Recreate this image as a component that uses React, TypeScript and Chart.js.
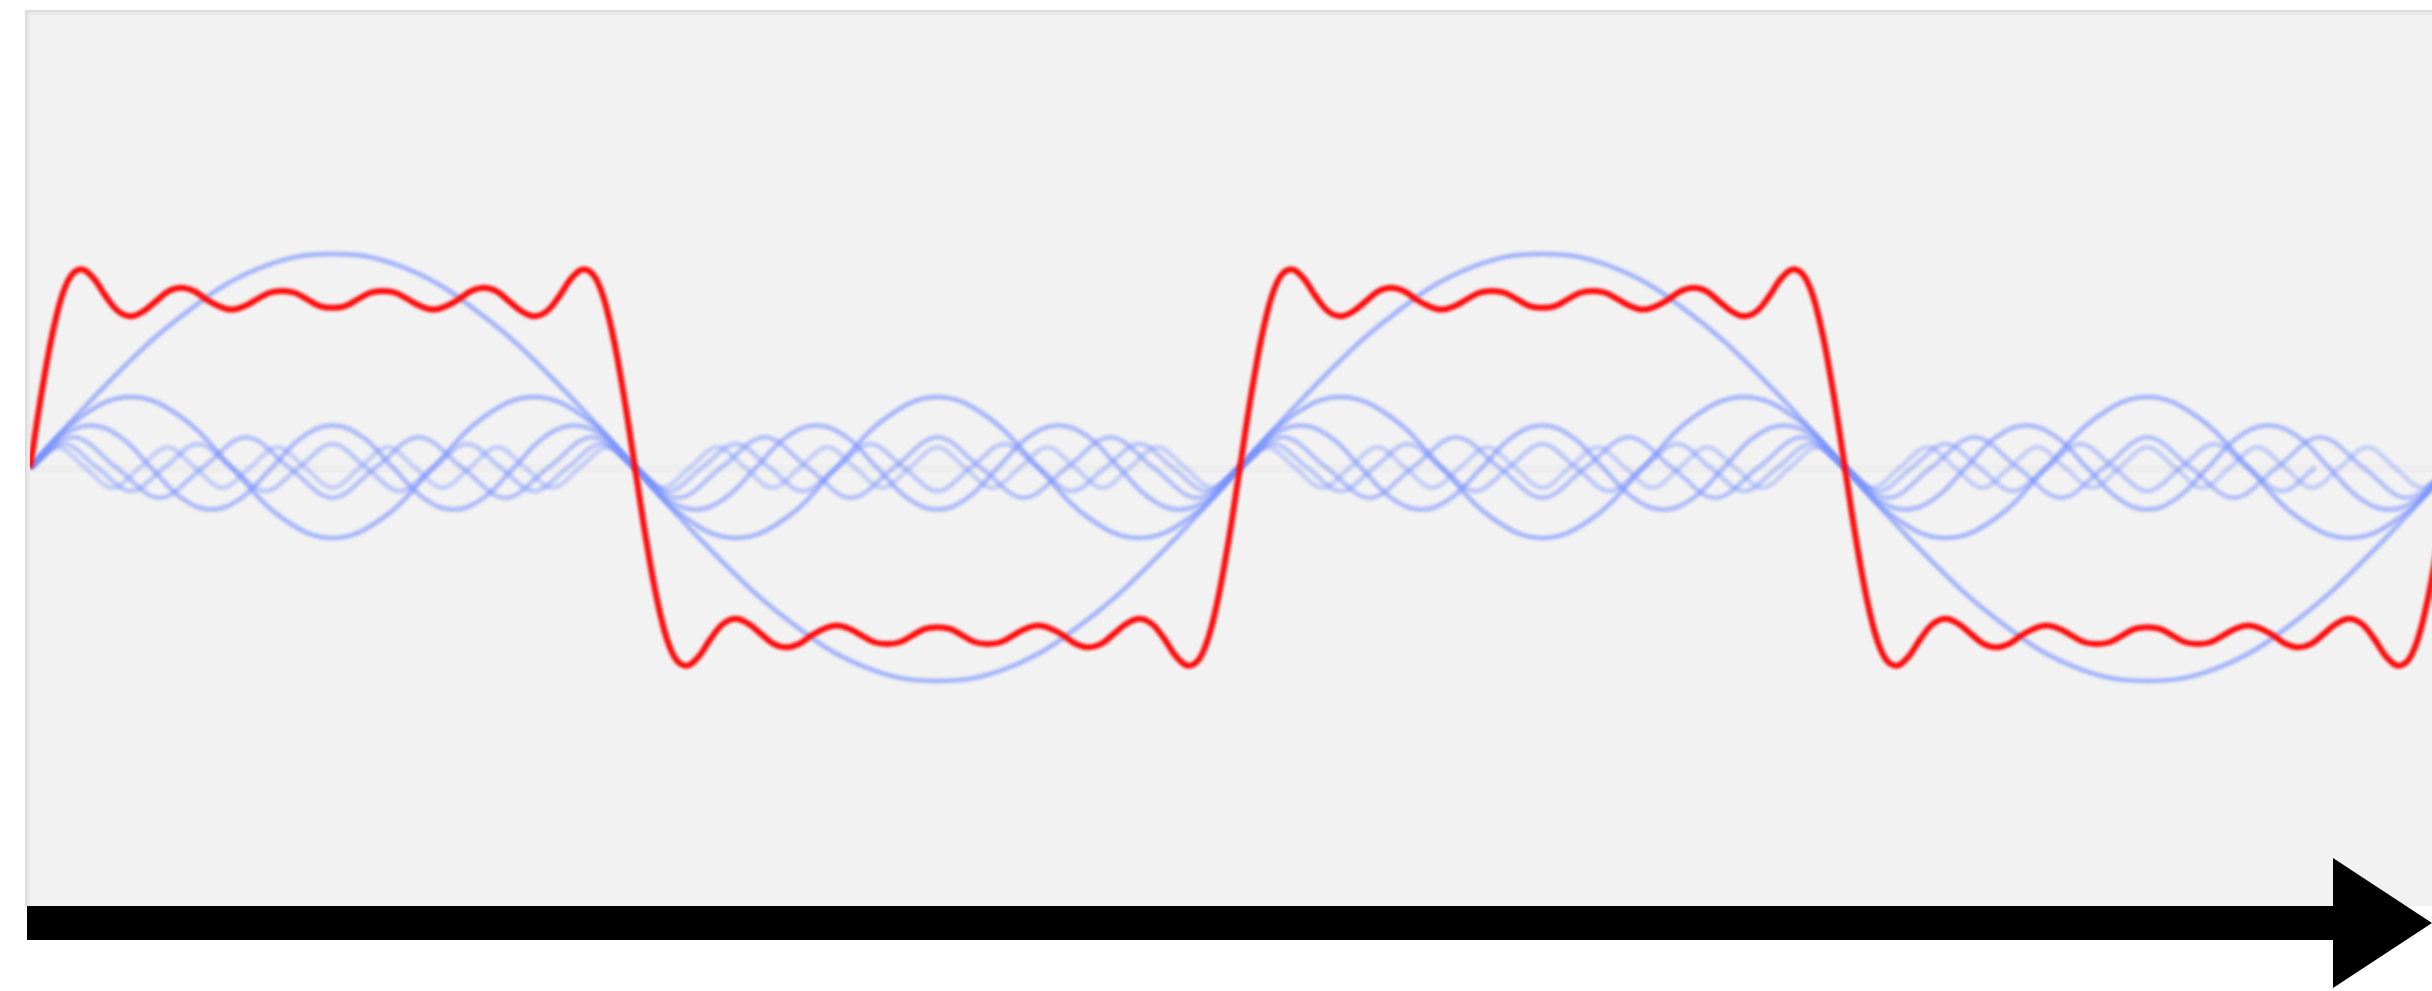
import React, { useEffect, useRef } from "react";
import { Chart, registerables } from "chart.js";

Chart.register(...registerables);

// Phase axis in degrees of the fundamental (one period = 360°)
const X_MIN = 0;
const X_MAX = 714.7;
const Y_MIN = -2.693;
const Y_MAX = 2.693;

// Red partial sum, every 3.75° from 0° to 720°
const RED_STEP_DEG = 3.75;
const RED_Y = [
  0, 0.48, 0.87, 1.11, 1.18, 1.13, 1.02, 0.93, 0.9, 0.93, 0.99, 1.05, 1.07, 1.05, 1.0, 0.96,
  0.94, 0.96, 1.0, 1.04, 1.05, 1.04, 1.0, 0.96, 0.95, 0.96, 1.0, 1.04, 1.05, 1.04, 1.0, 0.96,
  0.94, 0.96, 1.0, 1.05, 1.07, 1.05, 0.99, 0.93, 0.9, 0.93, 1.02, 1.13, 1.18, 1.11, 0.87, 0.48,
  0, -0.48, -0.87, -1.11, -1.18, -1.13, -1.02, -0.93, -0.9, -0.93, -0.99, -1.05, -1.07, -1.05, -1.0, -0.96,
  -0.94, -0.96, -1.0, -1.04, -1.05, -1.04, -1.0, -0.96, -0.95, -0.96, -1.0, -1.04, -1.05, -1.04, -1.0, -0.96,
  -0.94, -0.96, -1.0, -1.05, -1.07, -1.05, -0.99, -0.93, -0.9, -0.93, -1.02, -1.13, -1.18, -1.11, -0.87, -0.48,
  0, 0.48, 0.87, 1.11, 1.18, 1.13, 1.02, 0.93, 0.9, 0.93, 0.99, 1.05, 1.07, 1.05, 1.0, 0.96,
  0.94, 0.96, 1.0, 1.04, 1.05, 1.04, 1.0, 0.96, 0.95, 0.96, 1.0, 1.04, 1.05, 1.04, 1.0, 0.96,
  0.94, 0.96, 1.0, 1.05, 1.07, 1.05, 0.99, 0.93, 0.9, 0.93, 1.02, 1.13, 1.18, 1.11, 0.87, 0.48,
  0, -0.48, -0.87, -1.11, -1.18, -1.13, -1.02, -0.93, -0.9, -0.93, -0.99, -1.05, -1.07, -1.05, -1.0, -0.96,
  -0.94, -0.96, -1.0, -1.04, -1.05, -1.04, -1.0, -0.96, -0.95, -0.96, -1.0, -1.04, -1.05, -1.04, -1.0, -0.96,
  -0.94, -0.96, -1.0, -1.05, -1.07, -1.05, -0.99, -0.93, -0.9, -0.93, -1.02, -1.13, -1.18, -1.11, -0.87, -0.48,
  0,
];

const HARMONIC_ORDER = [1, 3, 5, 7, 9, 11];
const HARMONIC_STEP_DEG = [22.5, 15, 9, 90 / 7, 10, 90 / 11];
const HARMONIC_ALPHA = [0.62, 0.6, 0.54, 0.48, 0.42, 0.35];

const H1 = [
  0, 0.49, 0.9, 1.18, 1.27, 1.18, 0.9, 0.49, 0, -0.49, -0.9, -1.18, -1.27, -1.18, -0.9, -0.49,
  0, 0.49, 0.9, 1.18, 1.27, 1.18, 0.9, 0.49, 0, -0.49, -0.9, -1.18, -1.27, -1.18, -0.9, -0.49,
  0,
];
const H3 = [
  0, 0.3, 0.42, 0.3, 0, -0.3, -0.42, -0.3, 0, 0.3, 0.42, 0.3, 0, -0.3, -0.42, -0.3,
  0, 0.3, 0.42, 0.3, 0, -0.3, -0.42, -0.3, 0, 0.3, 0.42, 0.3, 0, -0.3, -0.42, -0.3,
  0, 0.3, 0.42, 0.3, 0, -0.3, -0.42, -0.3, 0, 0.3, 0.42, 0.3, 0, -0.3, -0.42, -0.3,
  0,
];
const H5 = [
  0, 0.18, 0.25, 0.18, 0, -0.18, -0.25, -0.18, 0, 0.18, 0.25, 0.18, 0, -0.18, -0.25, -0.18,
  0, 0.18, 0.25, 0.18, 0, -0.18, -0.25, -0.18, 0, 0.18, 0.25, 0.18, 0, -0.18, -0.25, -0.18,
  0, 0.18, 0.25, 0.18, 0, -0.18, -0.25, -0.18, 0, 0.18, 0.25, 0.18, 0, -0.18, -0.25, -0.18,
  0, 0.18, 0.25, 0.18, 0, -0.18, -0.25, -0.18, 0, 0.18, 0.25, 0.18, 0, -0.18, -0.25, -0.18,
  0, 0.18, 0.25, 0.18, 0, -0.18, -0.25, -0.18, 0, 0.18, 0.25, 0.18, 0, -0.18, -0.25, -0.18,
  0,
];
const H7 = [
  0, 0.18, 0, -0.18, 0, 0.18, 0, -0.18, 0, 0.18, 0, -0.18, 0, 0.18, 0, -0.18, 0, 0.18, 0, -0.18,
  0, 0.18, 0, -0.18, 0, 0.18, 0, -0.18, 0, 0.18, 0, -0.18, 0, 0.18, 0, -0.18, 0, 0.18, 0, -0.18,
  0, 0.18, 0, -0.18, 0, 0.18, 0, -0.18, 0, 0.18, 0, -0.18, 0, 0.18, 0, -0.18,
  0,
];
const H9 = [
  0, 0.14, 0, -0.14, 0, 0.14, 0, -0.14, 0, 0.14, 0, -0.14, 0, 0.14, 0, -0.14, 0, 0.14, 0, -0.14,
  0, 0.14, 0, -0.14, 0, 0.14, 0, -0.14, 0, 0.14, 0, -0.14, 0, 0.14, 0, -0.14, 0, 0.14, 0, -0.14,
  0, 0.14, 0, -0.14, 0, 0.14, 0, -0.14, 0, 0.14, 0, -0.14, 0, 0.14, 0, -0.14, 0, 0.14, 0, -0.14,
  0, 0.14, 0, -0.14, 0, 0.14, 0, -0.14,
  0,
];
const H11 = [
  0, 0.12, 0, -0.12, 0, 0.12, 0, -0.12, 0, 0.12, 0, -0.12, 0, 0.12, 0, -0.12, 0, 0.12, 0, -0.12,
  0, 0.12, 0, -0.12, 0, 0.12, 0, -0.12, 0, 0.12, 0, -0.12, 0, 0.12, 0, -0.12, 0, 0.12, 0, -0.12,
  0, 0.12, 0, -0.12, 0, 0.12, 0, -0.12, 0, 0.12, 0, -0.12, 0, 0.12, 0, -0.12, 0, 0.12, 0, -0.12,
  0, 0.12, 0, -0.12, 0, 0.12, 0, -0.12, 0, 0.12, 0, -0.12, 0, 0.12, 0, -0.12, 0, 0.12, 0, -0.12,
  0, 0.12, 0, -0.12, 0, 0.12, 0, -0.12,
  0,
];
const HARMONICS = [H1, H3, H5, H7, H9, H11];

const panelPlugin = {
  id: "panel",
  beforeDraw(chart: any) {
    const { ctx, chartArea: ca, width } = chart;
    const yc = ca.bottom + 3;
    const barTop = yc - 17;
    ctx.save();
    ctx.fillStyle = "#ffffff";
    ctx.fillRect(0, 0, width, chart.height);
    ctx.fillStyle = "#dddddd";
    ctx.fillRect(ca.left - 5, ca.top - 5, width, barTop - (ca.top - 5));
    ctx.fillStyle = "#e8e8e8";
    ctx.fillRect(ca.left - 3, ca.top - 3, width, barTop - (ca.top - 3));
    ctx.fillStyle = "#f2f2f2";
    ctx.fillRect(ca.left, ca.top, width, barTop - ca.top);
    const y0 = chart.scales.y.getPixelForValue(0);
    ctx.fillStyle = "#eeeeee";
    ctx.fillRect(ca.left, y0 - 3, width, 8);
    ctx.restore();
  },
  beforeDatasetsDraw(chart: any) {
    chart.ctx.save();
    chart.ctx.filter = "blur(1.4px)";
  },
  afterDatasetsDraw(chart: any) {
    chart.ctx.restore();
  },
  afterDraw(chart: any) {
    const { ctx, chartArea: ca } = chart;
    const yc = ca.bottom + 3;
    const headLen = 99;
    ctx.save();
    ctx.fillStyle = "#000000";
    ctx.fillRect(ca.left - 3, yc - 17, ca.right - headLen - (ca.left - 3), 34);
    ctx.beginPath();
    ctx.moveTo(ca.right - headLen, yc - 65);
    ctx.lineTo(ca.right, yc);
    ctx.lineTo(ca.right - headLen, yc + 65);
    ctx.closePath();
    ctx.fill();
    ctx.restore();
  },
};

export default function App() {
  const canvasRef = useRef<HTMLCanvasElement | null>(null);

  useEffect(() => {
    const canvas = canvasRef.current;
    if (!canvas) return;

    const redData = RED_Y.map((y, i) => ({ x: i * RED_STEP_DEG, y }));
    const blueSets = HARMONICS.map((vals, k) => ({
      label: "harmonic " + HARMONIC_ORDER[k],
      data: vals.map((y, i) => ({ x: i * HARMONIC_STEP_DEG[k], y })),
      borderColor: `rgba(120,145,255,${HARMONIC_ALPHA[k]})`,
      borderWidth: 5,
      pointRadius: 0,
      tension: k < 3 ? 0.4 : 0.36,
      fill: false,
    }));

    const chart = new Chart(canvas, {
      type: "line",
      data: {
        datasets: [
          {
            label: "sum",
            data: redData,
            borderColor: "#ff0a0a",
            borderWidth: 6,
            pointRadius: 0,
            tension: 0.4,
            fill: false,
          },
          ...blueSets,
        ],
      },
      options: {
        animation: false,
        responsive: true,
        maintainAspectRatio: false,
        devicePixelRatio: 1,
        layout: { padding: { left: 30, top: 15, right: 0, bottom: 71 } },
        plugins: { legend: { display: false }, tooltip: { enabled: false } },
        events: [],
        scales: {
          x: { type: "linear", min: X_MIN, max: X_MAX, display: false },
          y: { type: "linear", min: Y_MIN, max: Y_MAX, display: false },
        },
      },
      plugins: [panelPlugin],
    });

    return () => chart.destroy();
  }, []);

  return (
    <div style={{ position: "fixed", left: 0, top: 0, width: "2432px", height: "991px" }}>
      <canvas ref={canvasRef} />
    </div>
  );
}
